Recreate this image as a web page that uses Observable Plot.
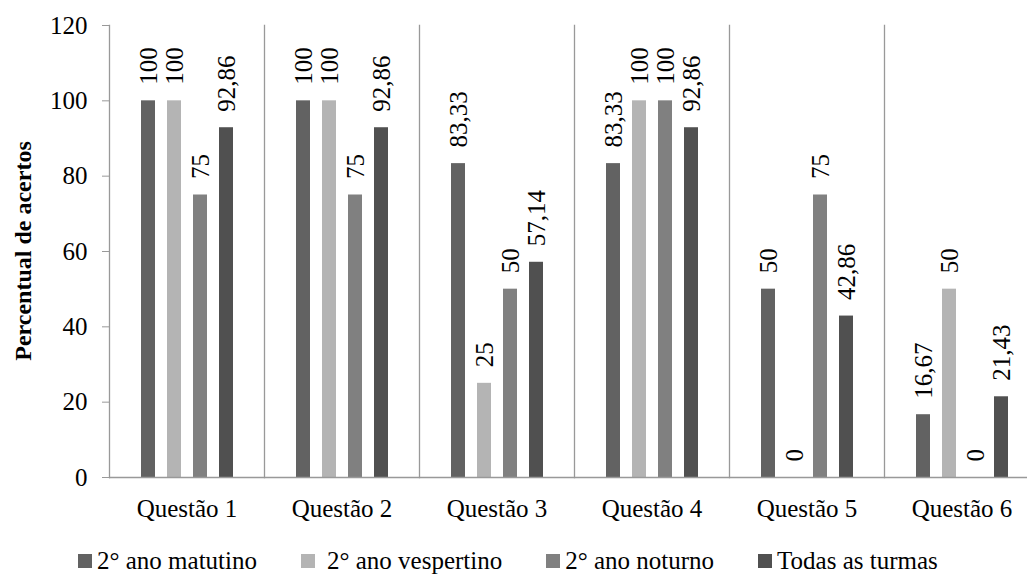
<!DOCTYPE html>
<html>
<head>
<meta charset="utf-8">
<script src="https://cdn.jsdelivr.net/npm/d3@7"></script>
<script src="https://cdn.jsdelivr.net/npm/@observablehq/plot@0.6"></script>
<style>
  body { margin: 0; padding: 0; background: #fff; }
  .serif { font-family: 'Liberation Serif', serif; }
  #wrap { position: relative; width: 1027px; height: 574px; }
  #chart { position: absolute; left: 0; top: 0; }
  #ylabel { position: absolute; left: 23px; top: 251px; transform: translate(-50%, -50%) rotate(-90deg); white-space: nowrap; font-weight: bold; font-size: 24px; color: #000; }
  #legend { position: absolute; left: 78px; top: 546px; display: flex; align-items: center; gap: 44px; font-size: 25px; line-height: 30px; white-space: nowrap; color: #000; }
  .item { display: flex; align-items: center; }
  .sw { width: 14px; height: 14px; margin-right: 5px; }
</style>
</head>
<body>
<div id="wrap" class="serif">
  <div id="chart"></div>
  <div id="ylabel" class="serif" style="font-family:'Liberation Serif', serif">Percentual de acertos</div>
  <div id="legend" class="serif" style="font-family:'Liberation Serif', serif"></div>
</div>
<script>
const questions = ["Questão 1", "Questão 2", "Questão 3", "Questão 4", "Questão 5", "Questão 6"];
const series = ["2° ano matutino", "2° ano vespertino", "2° ano noturno", "Todas as turmas"];
const matutino   = [100, 100, 83.33, 83.33, 50, 16.67];
const vespertino = [100, 100, 25, 100, 0, 50];
const noturno    = [75, 75, 50, 100, 75, 0];
const todas      = [92.86, 92.86, 57.14, 92.86, 42.86, 21.43];
const yTicks = [0, 20, 40, 60, 80, 100, 120];
const colors = ["#626262", "#b4b4b4", "#808080", "#505050"];

const valuesBySeries = [matutino, vespertino, noturno, todas];
const data = [];
questions.forEach((q, i) => {
  series.forEach((s, j) => {
    data.push({question: q, series: s, value: valuesBySeries[j][i]});
  });
});
const fmt = v => String(v).replace(".", ",");
const FONT = "'Liberation Serif', serif";

const plot = Plot.plot({
  width: 1027,
  height: 530,
  marginLeft: 107,
  marginRight: -13,
  marginTop: 25,
  marginBottom: 53,
  style: {fontFamily: FONT, fontSize: "25px", background: "#fff", overflow: "visible"},
  fx: {domain: questions, padding: 0, label: null, tickSize: 0, tickPadding: 22},
  x: {domain: series, paddingInner: 0.48, paddingOuter: 1.17, axis: null},
  y: {domain: [0, 120], axis: null},
  color: {domain: series, range: colors},
  marks: [
    Plot.frame({anchor: "left", stroke: "#999", strokeWidth: 1.3}),
    Plot.barY(data, {fx: "question", x: "series", y: "value", fill: "series"}),
    Plot.ruleY([0], {stroke: "#999", strokeWidth: 1.3}),
    Plot.axisY({ticks: yTicks, tickSize: 7, tickPadding: 15, stroke: "#999", fill: "#000", label: null, fontSize: 25, fontFamily: FONT}),
    Plot.text(data, {fx: "question", x: "series", y: "value", text: d => fmt(d.value), rotate: -90, textAnchor: "start", lineAnchor: "middle", dy: -16, fill: "#000", fontSize: 25, fontFamily: FONT})
  ]
});
document.getElementById("chart").appendChild(plot);

const legend = document.getElementById("legend");
series.forEach((s, j) => {
  const item = document.createElement("div");
  item.className = "item";
  item.style.fontFamily = FONT;
  const sw = document.createElement("span");
  sw.className = "sw";
  sw.style.background = colors[j];
  if (j === 1) sw.style.marginRight = "12px";
  const t = document.createElement("span");
  t.style.fontFamily = FONT;
  t.textContent = s;
  item.appendChild(sw);
  item.appendChild(t);
  legend.appendChild(item);
});
</script>
</body>
</html>
